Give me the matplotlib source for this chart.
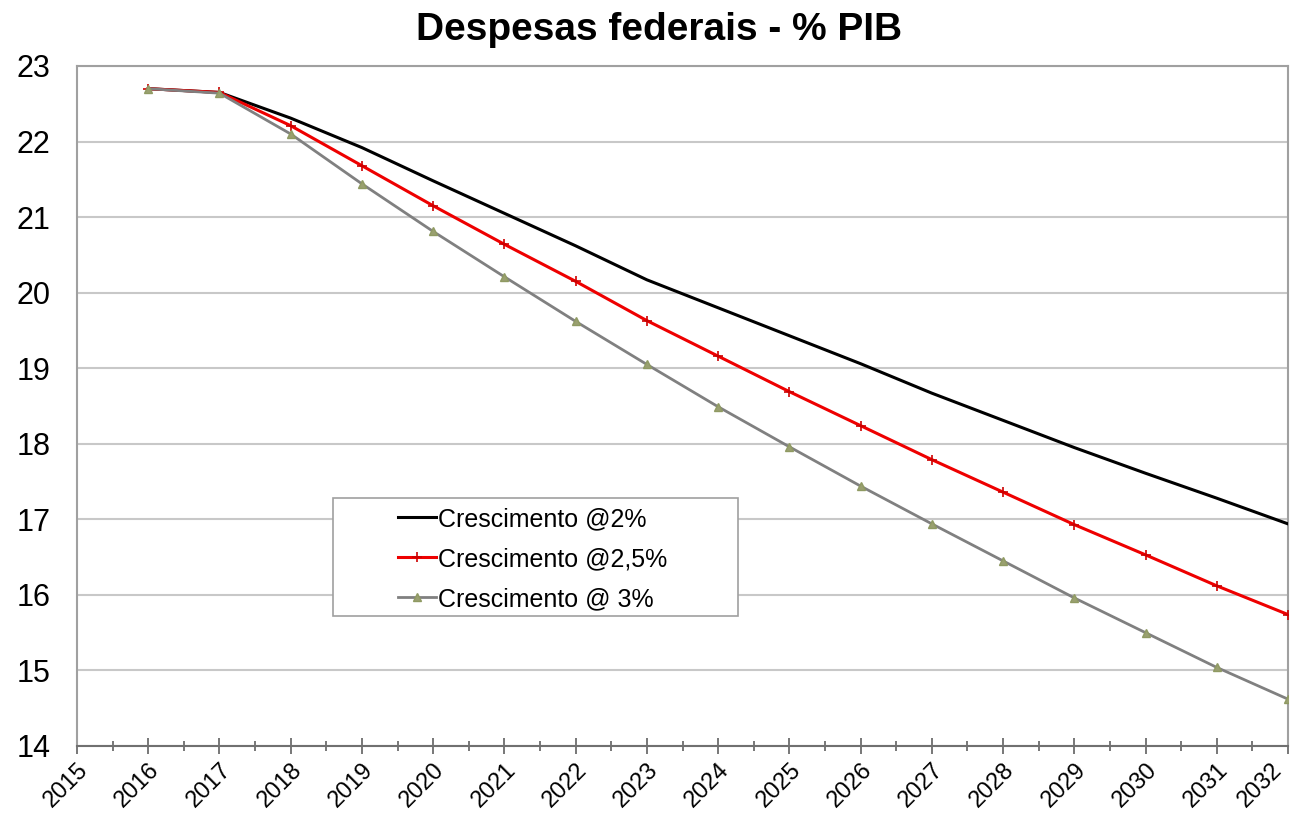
import matplotlib
matplotlib.use("Agg")
import matplotlib.pyplot as plt
from matplotlib.patches import Rectangle
from matplotlib.ticker import MultipleLocator
import matplotlib.transforms as mtransforms

plt.rcParams['font.family'] = ['Liberation Sans', 'DejaVu Sans']

title = "Despesas federais - % PIB"
years = list(range(2016, 2033))
tick_years = list(range(2015, 2033))
labels = ["Crescimento @2%", "Crescimento @2,5%", "Crescimento @ 3%"]
growth_2 = [22.70, 22.65, 22.31, 21.92, 21.48, 21.05, 20.62, 20.17, 19.80, 19.43,
            19.06, 18.67, 18.31, 17.95, 17.61, 17.28, 16.94]
growth_25 = [22.70, 22.65, 22.21, 21.68, 21.15, 20.64, 20.15, 19.63, 19.16, 18.69,
             18.24, 17.79, 17.36, 16.93, 16.53, 16.12, 15.74]
growth_3 = [22.70, 22.64, 22.10, 21.44, 20.81, 20.21, 19.62, 19.05, 18.49, 17.96,
            17.44, 16.94, 16.45, 15.96, 15.50, 15.04, 14.62]

fig = plt.figure(figsize=(12.95, 8.19), dpi=100)
ax = fig.add_axes([77 / 1295, 1 - 746 / 819, (1288 - 77) / 1295, (746 - 66) / 819])

ax.plot(years, growth_2, color='black', lw=2.2, label=labels[0], zorder=4)
ax.plot(years, growth_25, color='#ee0000', lw=2.2, marker='+', ms=7, mew=1.2,
        mec='#cc0000', label=labels[1], zorder=4)
ax.plot(years, growth_3, color='#808080', lw=2.0, marker='^', ms=6,
        mfc='#9aa070', mec='#8f9a62', label=labels[2], zorder=4)

ax.set_xlim(2015, 2032)
ax.set_ylim(14, 23)
ax.yaxis.set_major_locator(MultipleLocator(1))
ax.set_xticks(tick_years)
ax.set_xticklabels([str(y) for y in tick_years], rotation=45, ha='right',
                   va='center', rotation_mode='anchor', fontsize=17)
ax.xaxis.set_minor_locator(MultipleLocator(0.5))
ax.tick_params(axis='x', which='major', direction='inout', length=11, width=1.2,
               color='#606060', pad=9)
ax.tick_params(axis='x', which='minor', direction='inout', length=7.5, width=1.2,
               color='#606060')
ax.tick_params(axis='y', length=0, pad=19, labelsize=22)
xlabels = ax.get_xticklabels()
for i, lbl in enumerate(xlabels):
    dx = -9 if i == len(xlabels) - 1 else 8
    off = mtransforms.ScaledTranslation(dx / 100, 0, fig.dpi_scale_trans)
    lbl.set_transform(lbl.get_transform() + off)

ax.grid(axis='y', color='#c8c8c8', lw=1.5)
ax.set_axisbelow(True)
for side in ['top', 'right', 'left']:
    ax.spines[side].set_color('#a0a0a0')
    ax.spines[side].set_linewidth(1.5)
ax.spines['bottom'].set_color('#707070')
ax.spines['bottom'].set_linewidth(1.5)

# legend box
x0 = (333 - 77) / 1211
y0 = 1 - (616 - 66) / 680
w = (738 - 333) / 1211
h = (616 - 498) / 680
ax.add_patch(Rectangle((x0, y0), w, h, transform=ax.transAxes, facecolor='white',
                       edgecolor='#a0a0a0', lw=1.2, zorder=5))
leg = ax.legend(loc='upper left', bbox_to_anchor=((398 - 77) / 1211, 1 - (507 - 66) / 680),
                frameon=False, fontsize=18, handlelength=1.5, handletextpad=0.12,
                labelspacing=0.64, borderaxespad=0, borderpad=0)
leg.set_zorder(6)

fig.text(659.5 / 1295, 1 - 40 / 819, title, ha='center', va='baseline',
         fontsize=28, fontweight='bold')

fig.savefig('out.png', dpi=100)
